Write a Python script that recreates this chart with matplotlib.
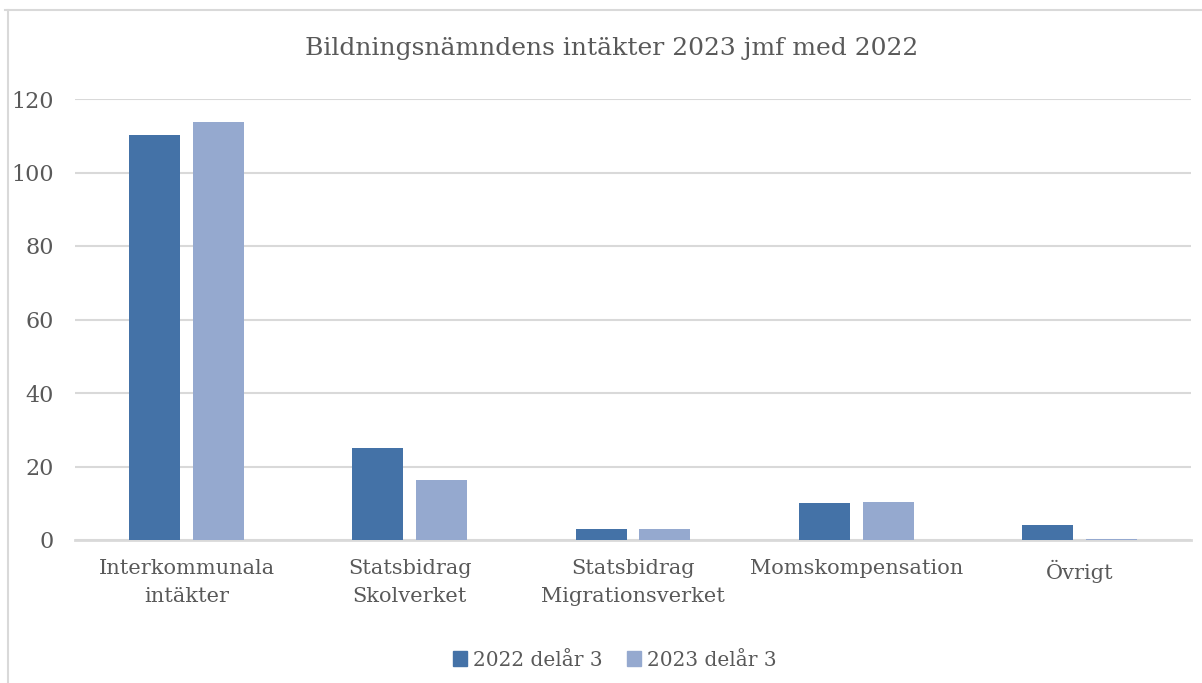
import matplotlib
matplotlib.use("Agg")
import matplotlib.pyplot as plt
from matplotlib.lines import Line2D
from matplotlib.patches import Patch

# data
categories = ["Interkommunala\nintäkter", "Statsbidrag\nSkolverket", "Statsbidrag\nMigrationsverket",
              "Momskompensation", "Övrigt"]
values_2022 = [110.2, 25.0, 3.0, 10.1, 4.1]
values_2023 = [113.7, 16.3, 3.0, 10.3, 0.3]
series_names = ["2022 delår 3", "2023 delår 3"]
yticks = [0, 20, 40, 60, 80, 100, 120]

col_dark = "#4472a7"
col_light = "#95a9cf"
txt = "#595959"
grid = "#d9d9d9"

plt.rcParams['font.family'] = ['DejaVu Serif']

fig = plt.figure(figsize=(12.02, 6.83), dpi=100)
ax = fig.add_axes([75/1202, 143/683, 1116/1202, 441/683])

x = list(range(len(categories)))
w = 0.228
ax.bar([i - 0.143 for i in x], values_2022, width=w, color=col_dark, zorder=3)
ax.bar([i + 0.143 for i in x], values_2023, width=w, color=col_light, zorder=3)

ax.set_xlim(-0.5, len(categories) - 0.5)
ax.set_ylim(0, 120)
ax.set_yticks(yticks)
ax.set_yticklabels([str(t) for t in yticks], fontsize=16, color=txt)
ax.set_xticks(x)
ax.set_xticklabels(categories, fontsize=15, color=txt, linespacing=1.55)
ax.tick_params(length=0)
ax.tick_params(axis='y', pad=15)
ax.tick_params(axis='x', pad=14)
ax.grid(axis='y', color=grid, linewidth=1.5, zorder=0)
for s in ['top', 'right', 'left']:
    ax.spines[s].set_visible(False)
ax.spines['bottom'].set_color(grid)
ax.spines['bottom'].set_linewidth(2)

fig.text(612/1202, 1 - 49/683, "Bildningsnämndens intäkter 2023 jmf med 2022",
         ha='center', va='center', fontsize=18, color=txt)

handles = [Patch(color=col_dark), Patch(color=col_light)]
fig.legend(handles, series_names, loc='center', bbox_to_anchor=(615/1202, 1 - 660/683),
           ncol=2, frameon=False, fontsize=14.5, labelcolor=txt,
           handlelength=0.7, handleheight=0.7, handletextpad=0.3, columnspacing=1.2)

# chart frame
fig.add_artist(Line2D([5/1202, 1], [1 - 10/683, 1 - 10/683], color=grid, linewidth=1.5))
fig.add_artist(Line2D([8/1202, 8/1202], [0, 1 - 10/683], color=grid, linewidth=1.5))

fig.savefig("out.png", dpi=100)
